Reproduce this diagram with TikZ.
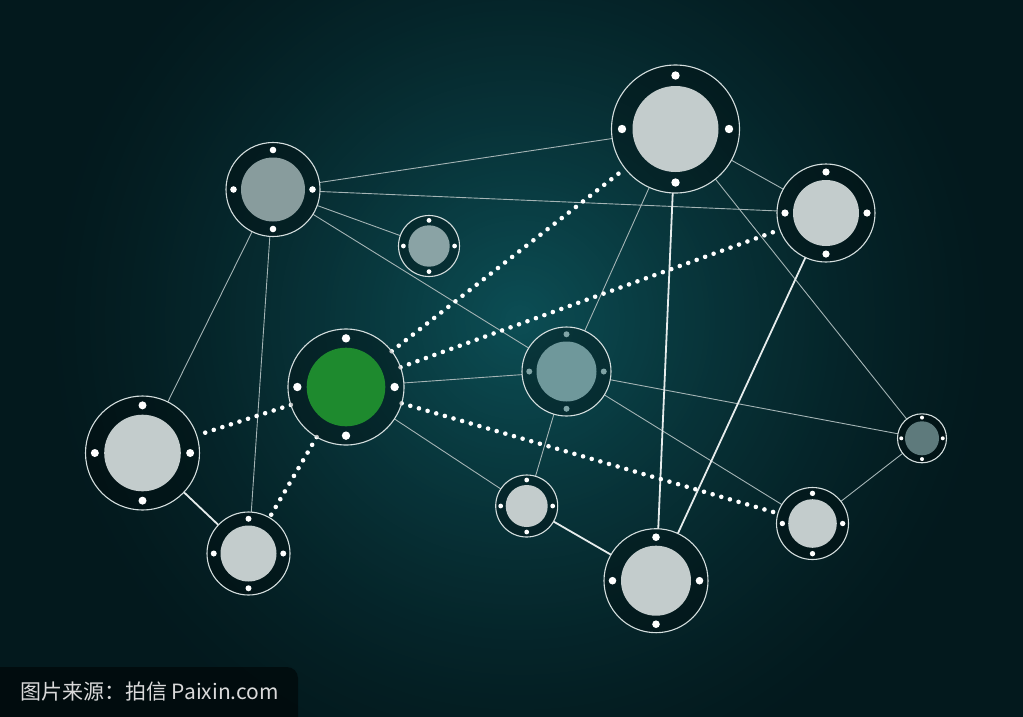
\documentclass[tikz,border=0pt]{standalone}
\usepackage{fontspec}
\newfontfamily\cjk{Noto Sans CJK SC}
\pgfdeclarelayer{back}
\pgfdeclarelayer{mid}
\pgfsetlayers{back,mid,main}
\definecolor{bgA}{HTML}{0C4E55}
\definecolor{bgE}{HTML}{03191D}
\definecolor{ringc}{HTML}{D4DEDE}
\definecolor{lightfill}{HTML}{C3CCCC}
\definecolor{grayfill}{HTML}{889C9D}
\definecolor{bfill}{HTML}{8AA3A5}
\definecolor{ffill}{HTML}{6F989B}
\definecolor{fdot}{HTML}{80A4A6}
\definecolor{lfill}{HTML}{5E7A7C}
\definecolor{greenfill}{HTML}{1E8A2E}
\definecolor{thinc}{HTML}{A4B4B5}
\definecolor{thickc}{HTML}{E6ECEC}
\definecolor{wmtext}{HTML}{DADADA}
\tikzset{
  hubring/.style={circle, draw=ringc, line width=1.1pt, fill=black, fill opacity=0.27, inner sep=0pt, outer sep=0pt},
  thinedge/.style={draw=thinc, line width=0.9pt},
  thickedge/.style={draw=thickc, line width=1.8pt},
  dotedge/.style={draw=white, line width=4.6pt, line cap=round, dash pattern=on 0pt off 9pt},
  wmbox/.style={fill=black, fill opacity=0.5},
  wmlabel/.style={text=wmtext, anchor=west, inner sep=0pt, font=\cjk\fontsize{21}{21}\selectfont}
}
\newcommand{\hubnode}[8]{%
  \node[hubring, minimum size=#4*2pt] (#1) at (#2,#3) {};
  \fill[#7] (#1.center) circle[radius=#5pt];
  \foreach \ang in {0,90,180,270}{\fill[#8] (#1.center) ++(\ang:{(#4+#5)/2*1pt}) circle[radius=#6pt];}
}
\begin{document}
\begin{tikzpicture}[x=1pt,y=-1pt]
\useasboundingbox (0,0) rectangle (1023,716);
\begin{pgfonlayer}{back}
  \fill[bgE] (-10,-10) rectangle (1033,726);
  \foreach \i in {0,...,94}{
    \pgfmathsetmacro{\rr}{475-\i*5}
    \pgfmathsetmacro{\pp}{100*(1-\rr/480)^1.35}
    \fill[bgA!\pp!bgE] (520,320) circle[radius=\rr pt];
  }
\end{pgfonlayer}
% hubs
\hubnode{A}{273}{189.5}{47}{32}{3.3}{grayfill}{white}
\hubnode{B}{429}{246}{30.5}{20.7}{2.4}{bfill}{white}
\hubnode{C}{675.5}{129}{64}{43}{4.2}{lightfill}{white}
\hubnode{D}{826}{213}{49}{33}{3.6}{lightfill}{white}
\hubnode{E}{346}{387}{58}{39.3}{4.2}{greenfill}{white}
\hubnode{F}{566.5}{371.5}{44.5}{30}{3}{ffill}{fdot}
\hubnode{G}{142.5}{453}{57}{38.3}{4}{lightfill}{white}
\hubnode{H}{248.5}{553.5}{41.5}{28}{3}{lightfill}{white}
\hubnode{I}{526.7}{506}{31}{21}{2.4}{lightfill}{white}
\hubnode{J}{656}{580.7}{52}{35}{3.8}{lightfill}{white}
\hubnode{K}{812.5}{523.5}{36}{24.3}{2.7}{lightfill}{white}
\hubnode{L}{922}{438.3}{24.5}{17}{2}{lfill}{white}
\begin{pgfonlayer}{mid}
  \draw[thinedge] (A) -- (C);
  \draw[thinedge] (A) -- (D);
  \draw[thinedge] (A) -- (B);
  \draw[thinedge] (A) -- (F);
  \draw[thinedge] (A) -- (G);
  \draw[thinedge] (A) -- (H);
  \draw[thinedge] (C) -- (D);
  \draw[thinedge] (C) -- (F);
  \draw[thinedge] (C) -- (L);
  \draw[thinedge] (E) -- (F);
  \draw[thinedge] (E) -- (I);
  \draw[thinedge] (F) -- (L);
  \draw[thinedge] (F) -- (K);
  \draw[thinedge] (F) -- (I);
  \draw[thinedge] (K) -- (L);
  \draw[thickedge] (C) -- (J);
  \draw[thickedge] (D) -- (J);
  \draw[thickedge] (G) -- (H);
  \draw[thickedge] (I) -- (J);
  \draw[dotedge] (E) -- (C);
  \draw[dotedge] (E) -- (D);
  \draw[dotedge] (E) -- (G);
  \draw[dotedge] (E) -- (H);
  \draw[dotedge] (E) -- (K);
\end{pgfonlayer}
% watermark
\fill[wmbox, rounded corners=11pt] (-20,667) rectangle (298,740);
\node[wmlabel] (wm) at (20,692) {图片来源：拍信 Paixin.com};
\end{tikzpicture}
\end{document}
